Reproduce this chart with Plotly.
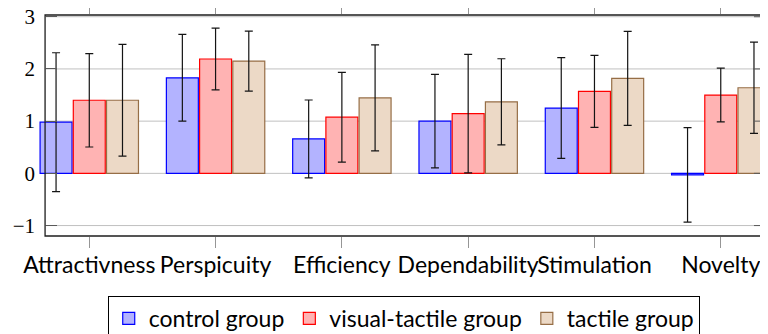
import plotly.graph_objects as go

categories = ["Attractivness", "Perspicuity", "Efficiency", "Dependability", "Stimulation", "Novelty"]

control_mean = [0.98, 1.83, 0.66, 1.00, 1.25, -0.03]
control_err = [1.33, 0.83, 0.745, 0.895, 0.965, 0.905]

visual_tactile_mean = [1.40, 2.19, 1.075, 1.145, 1.57, 1.50]
visual_tactile_err = [0.895, 0.59, 0.86, 1.135, 0.69, 0.515]

tactile_mean = [1.40, 2.15, 1.445, 1.37, 1.82, 1.64]
tactile_err = [1.07, 0.575, 1.015, 0.825, 0.90, 0.875]

y_ticks = [-1, 0, 1, 2, 3]
y_tick_labels = ["\u22121", "0", "1", "2", "3"]

series = [
    ("control group", control_mean, control_err, "rgb(179,179,255)", "rgb(0,0,255)"),
    ("visual-tactile group", visual_tactile_mean, visual_tactile_err, "rgb(255,179,179)", "rgb(255,0,0)"),
    ("tactile group", tactile_mean, tactile_err, "rgb(236,217,198)", "rgb(150,110,70)"),
]

x_idx = list(range(len(categories)))

fig = go.Figure()
for name, mean, err, fill, line in series:
    fig.add_trace(go.Bar(
        name=name, x=x_idx, y=mean,
        marker=dict(color=fill, line=dict(color=line, width=1.2)),
        error_y=dict(type="data", array=err, visible=True, color="rgb(20,20,20)", thickness=1.2, width=4),
    ))

X_LO, X_HI = -0.35, 5.35
shapes = []
for t in y_ticks:
    shapes.append(dict(type="line", xref="x", yref="y", x0=X_LO, x1=X_HI, y0=t, y1=t,
                       line=dict(color="rgb(192,192,192)", width=1), layer="below"))
    shapes.append(dict(type="line", xref="x", yref="y", xsizemode="pixel", xanchor=X_HI,
                       x0=-11, x1=0, y0=t, y1=t, line=dict(color="rgb(90,90,90)", width=1), layer="above"))
shapes.append(dict(type="rect", xref="x", yref="paper", x0=X_LO, x1=X_HI, y0=0, y1=1,
                   line=dict(color="rgb(30,30,30)", width=1.3), layer="above"))

# the page body keeps an 8px margin, so the figure is 760x326 and offsets are shifted
fig.update_layout(
    width=760, height=326,
    margin=dict(l=30, r=0, t=7, b=98, autoexpand=False),
    paper_bgcolor="white", plot_bgcolor="white",
    barmode="group", bargap=0.211, bargroupgap=0.038,
    shapes=shapes,
    showlegend=True,
    legend=dict(orientation="h", x=0.501, xanchor="center", y=-0.271, yanchor="top",
                bordercolor="black", borderwidth=1, bgcolor="white",
                font=dict(family="Lato", size=23, color="black"),
                itemwidth=30, traceorder="normal"),
    xaxis=dict(range=[-0.406, 5.374], tickmode="array", tickvals=x_idx, ticktext=categories,
               showgrid=False, zeroline=False, showline=False, automargin=False,
               tickangle=0, ticklabeloverflow="allow", ticklabelstandoff=-3,
               ticks="outside", ticklen=11, tickcolor="rgb(150,150,150)", tickwidth=1,
               mirror="ticks",
               tickfont=dict(family="Lato", size=23, color="black")),
    yaxis=dict(range=[-1.2, 3.033], tickmode="array", tickvals=y_ticks, ticktext=y_tick_labels,
               showgrid=False, zeroline=False, showline=False, automargin=False,
               anchor="free", position=7 / 730, ticklabeloverflow="allow",
               ticks="inside", ticklen=11, tickcolor="rgb(90,90,90)", tickwidth=1,
               ticklabelstandoff=10,
               tickfont=dict(family="Liberation Serif", size=21, color="black")),
)

fig.write_html("out.html")
